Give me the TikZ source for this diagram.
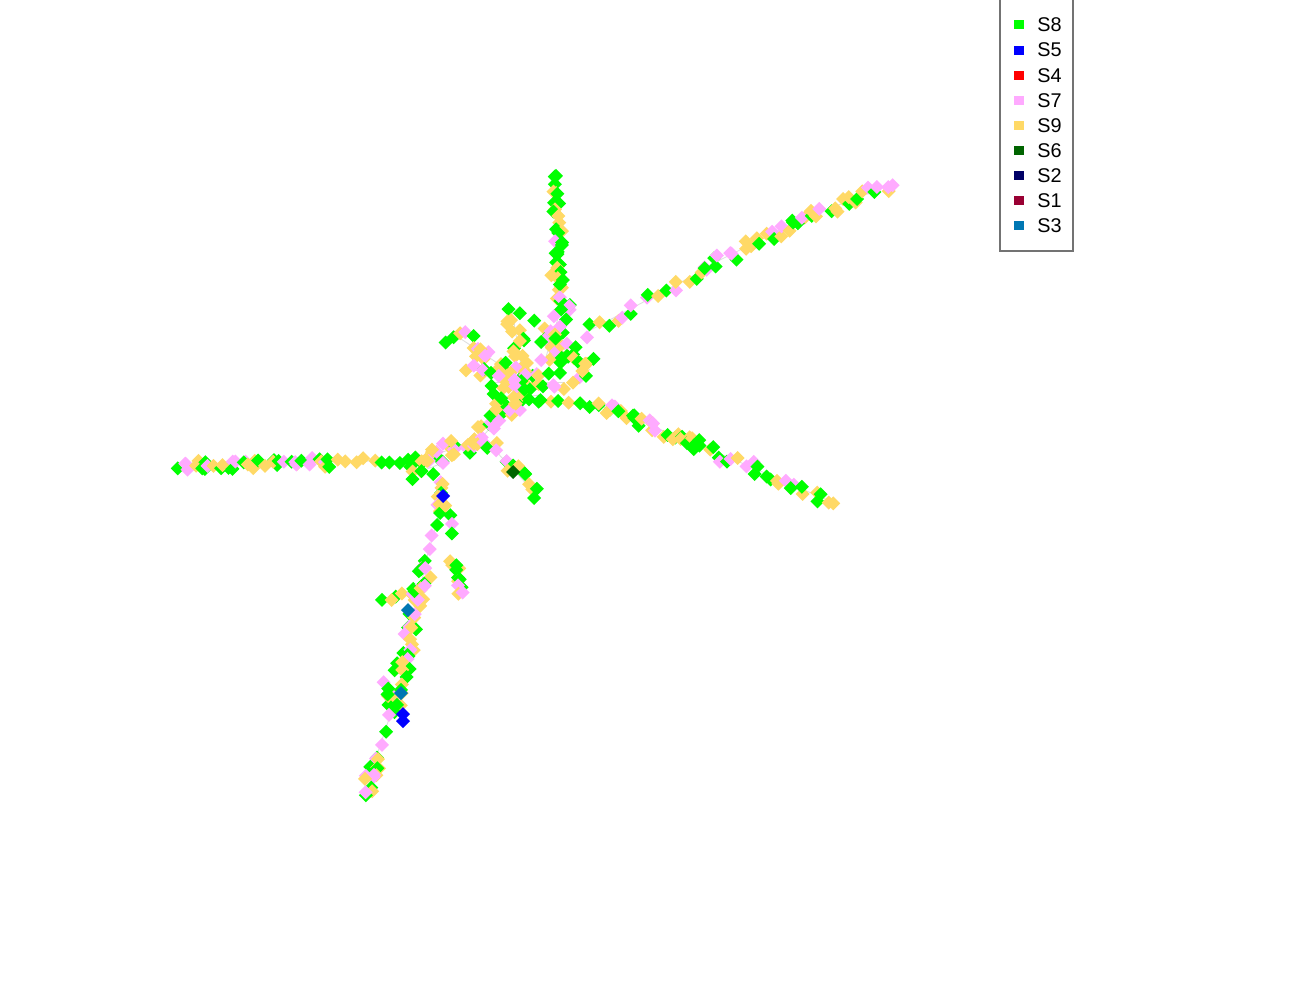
\documentclass[tikz,border=0pt]{standalone}
\usepackage{fontspec}
\setmainfont{Liberation Sans}
\definecolor{cS8}{HTML}{00FF00}
\definecolor{cS5}{HTML}{0000FF}
\definecolor{cS4}{HTML}{FF0000}
\definecolor{cS7}{HTML}{FFAAFF}
\definecolor{cS9}{HTML}{FFD966}
\definecolor{cS6}{HTML}{006400}
\definecolor{cS2}{HTML}{000066}
\definecolor{cS1}{HTML}{990033}
\definecolor{cS3}{HTML}{0077B3}
\pgfdeclarelayer{bg}\pgfsetlayers{bg,main}
\tikzset{edge/.style={draw=black!13,line width=0.5pt},
  legtext/.style={anchor=west,inner sep=0pt,font=\fontsize{11.3}{13}\selectfont}}
\newcommand\dmd[3]{\fill[#1] (#2,#3) +(0,7) -- +(7,0) -- +(0,-7) -- +(-7,0) -- cycle;}
\newcommand\br[6]{%
 \begin{pgfonlayer}{bg}\draw[edge] (#1,#2) -- (#3,#4);\end{pgfonlayer}
 \foreach \i in {0,...,#5}{%
  \pgfmathsetmacro\px{#1+(#3-#1)*\i/#5+rand*#6}%
  \pgfmathsetmacro\py{#2+(#4-#2)*\i/#5+rand*#6}%
  \pgfmathrandominteger\cc{1}{20}%
  \ifnum\cc<8 \def\col{cS8}\else\ifnum\cc<13 \def\col{cS7}\else\def\col{cS9}\fi\fi
  \dmd{\col}{\px}{\py}%
 }}
\begin{document}
\begin{tikzpicture}[x=0.02cm,y=-0.02cm]
\pgfmathsetseed{777}
\useasboundingbox (0,0) rectangle (1300,1000);
% West branch
\br{178}{466}{330}{462}{40}{5}
\br{330}{462}{410}{460}{9}{3}
\br{410}{460}{470}{445}{20}{9}
\br{412}{475}{445}{462}{8}{8}
% central diagonal
\br{470}{450}{530}{385}{28}{8}
% SW long branch
\br{443}{480}{440}{512}{8}{4}
\br{440}{512}{426}{560}{4}{2}
\br{426}{565}{415}{605}{16}{8}
\br{385}{600}{425}{588}{7}{5}
\br{413}{612}{406}{660}{14}{6}
\br{405}{660}{393}{712}{18}{8}
\br{382}{685}{395}{700}{4}{5}
\br{390}{716}{376}{758}{3}{2}
\br{376}{760}{367}{792}{14}{6}
% small branch
\br{447}{505}{452}{535}{3}{2}
\br{455}{560}{465}{592}{11}{6}
% SE short branch
\br{490}{445}{537}{495}{13}{6}
% Up branch
\br{555}{175}{560}{250}{18}{5}
\br{558}{250}{558}{290}{8}{3}
\br{556}{282}{570}{312}{10}{7}
\br{560}{312}{545}{360}{10}{8}
% NE branch
\br{585}{333}{700}{272}{16}{5}
\br{700}{270}{800}{220}{22}{6}
\br{800}{220}{895}{183}{20}{5}
% E branch
\br{550}{400}{610}{408}{6}{2}
\br{605}{408}{700}{445}{28}{7}
\br{700}{445}{832}{502}{26}{6}
% central cluster
\br{512}{310}{525}{390}{22}{10}
\br{455}{335}{520}{378}{20}{10}
\br{540}{330}{590}{370}{26}{12}
\br{495}{382}{565}{382}{18}{12}
\br{470}{370}{500}{370}{6}{8}
\br{500}{400}{540}{395}{8}{9}
% special colours
\dmd{cS5}{443}{496}
\dmd{cS3}{408}{610}
\dmd{cS3}{401}{693}
\dmd{cS5}{403}{714}
\dmd{cS5}{403}{721}
\dmd{cS6}{513}{472}
% legend
\draw[black!55,line width=0.8pt] (1000,-2) rectangle (1073,251);
\foreach \n/\c [count=\k from 0] in {S8/cS8,S5/cS5,S4/cS4,S7/cS7,S9/cS9,S6/cS6,S2/cS2,S1/cS1,S3/cS3}{
  \fill[\c] (1014,20.5+25.1*\k) rectangle (1024,29.5+25.1*\k);
  \node[legtext] (leg\n) at (1037,25+25.1*\k) {\n};
}
\end{tikzpicture}
\end{document}
